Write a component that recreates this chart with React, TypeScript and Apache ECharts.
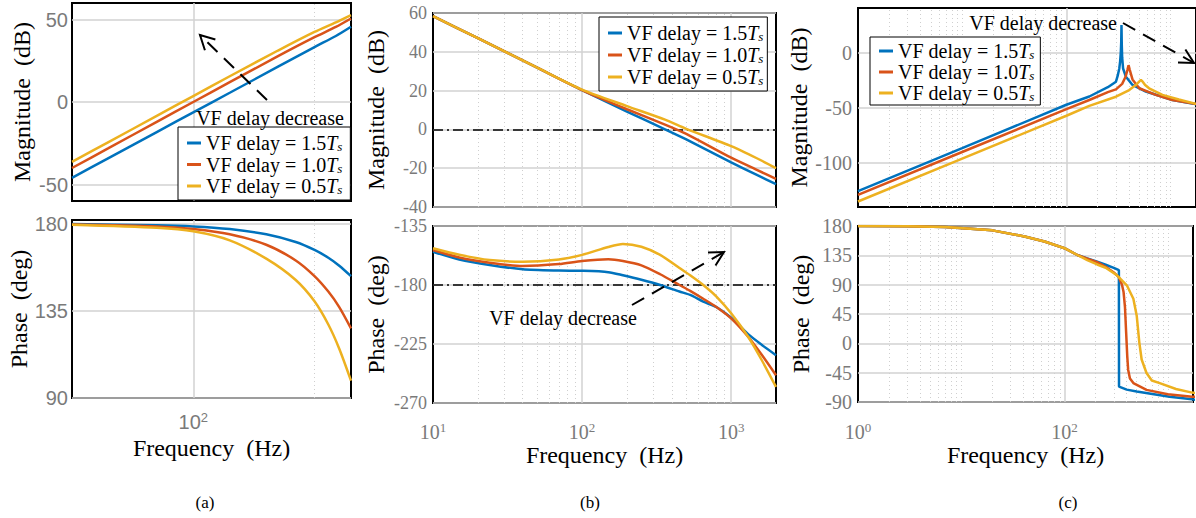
import React, { useEffect, useRef } from 'react';
import * as echarts from 'echarts';

const DELAYS = ['1.5', '1.0', '0.5'];
const COLORS = ['#0072BD', '#D95319', '#EDB120'];

// ---- panel (a)
const A_MAG_FREQ = [10, 20, 50, 100, 200, 500, 1000, 1500, 2000];
const A_MAG_15 = [-46, -34, -18.2, -6.3, 5.6, 21.4, 33.3, 40, 45.6];
const A_MAG_10 = [-40, -28, -12, 0, 12, 27.8, 39.3, 45.5, 50.6];
const A_MAG_05 = [-36.3, -24.3, -8.4, 3.6, 15.6, 31.2, 42.5, 48.3, 52.7];
const A_PH_FREQ = [10, 50, 100, 200, 400, 700, 1000, 1300, 1600, 2000];
const A_PH_15 = [179.9, 179.3, 178.7, 177.3, 174.6, 170.6, 166.5, 162.5, 158.4, 153];
const A_PH_10 = [179.7, 178.7, 177.3, 174.6, 169.2, 161.1, 153, 145, 137, 126];
const A_PH_05 = [179.6, 178, 176.2, 171.5, 162, 151, 140, 128, 115.5, 99];

// ---- panel (b)
const B_MAG_FREQ = [10, 20, 50, 100, 200, 360, 500, 1000, 1500, 2000];
const B_MAG_15 = [58.4, 47, 31.8, 20.2, 9.2, 0, -5.2, -17, -23.6, -28.2];
const B_MAG_10 = [58.4, 47, 31.8, 20.3, 10.4, 2.5, -2.3, -14.6, -21, -25.5];
const B_MAG_05 = [58.4, 47, 31.8, 20.5, 12, 5, 0.3, -8.6, -15, -20];
const B_PH_FREQ = [10, 15, 24, 40, 70, 100, 150, 188, 250, 334, 450, 531, 650, 800, 1000, 1300, 1600, 2000];
const B_PH_15 = [-154.6, -160.5, -164.7, -168, -169, -169.2, -170.2, -172.6, -176, -180, -185, -187.6, -192.7, -197, -205, -217.5, -225.5, -233.5];
const B_PH_10 = [-153.3, -159, -163, -165.5, -164, -161.7, -160.4, -161.7, -165, -171.8, -180, -184.5, -190.5, -197, -205.5, -219.5, -233, -248.8];
const B_PH_05 = [-152, -157, -161, -162.2, -160.5, -157, -151, -148.7, -150.8, -157, -167, -172.6, -180, -189, -201.6, -219.5, -237, -257.7];

// ---- panel (c)
const C_MAG_15_FREQ = [1, 10, 100, 166, 250, 299, 310, 322, 328, 333, 336, 338, 340, 343, 350, 373, 431, 579, 1041, 1718, 2000];
const C_MAG_15 = [-125.5, -86.5, -47, -39.5, -31, -26, -21, -14, -7.5, 1, 10, 25.5, 8, -4, -14, -21.5, -29, -35, -42.7, -46.4, -47.5];
const C_MAG_10_FREQ = [1, 10, 100, 166, 250, 299, 343, 370, 385, 395, 405, 431, 500, 721, 1041, 1718, 2000];
const C_MAG_10 = [-129, -90, -51, -42.7, -35.5, -33, -28, -21.5, -15.5, -11, -15, -24, -32, -38, -42.7, -46.2, -47.2];
const C_MAG_05_FREQ = [1, 10, 100, 166, 299, 401, 470, 505, 519, 540, 570, 622, 835, 1200, 1718, 2000];
const C_MAG_05 = [-135, -96, -57, -48, -39.7, -33.6, -28.5, -25.5, -24.5, -26, -29, -32, -38, -42.2, -46, -47];
const C_PH_15_FREQ = [1, 3, 7, 20, 41, 64, 100, 133, 166, 207, 250, 300, 336, 337, 400, 500, 1041, 1718, 2000];
const C_PH_15 = [180, 179.6, 178.5, 173.3, 164, 156.3, 145.9, 135.5, 130.3, 125.2, 120.5, 115.8, 112.2, -66.3, -71, -74, -81.8, -85.9, -87];
const C_PH_10_FREQ = [1, 3, 7, 20, 41, 64, 100, 133, 166, 207, 250, 300, 334, 360, 373, 385, 395, 405, 413, 430, 464, 622, 1000, 1718, 2000];
const C_PH_10 = [180, 179.6, 178.5, 173.3, 164, 156.3, 145.9, 135.5, 130, 124.5, 117.5, 108.6, 102, 90, 78.6, 55, 16.6, -20, -40.4, -54, -61, -71.4, -78, -81.8, -82.5];
const C_PH_05_FREQ = [1, 3, 7, 20, 41, 64, 100, 133, 166, 207, 250, 322, 401, 464, 500, 530, 558, 622, 700, 835, 1200, 1718, 2000];
const C_PH_05 = [180, 179.6, 178.5, 173.3, 164, 156.3, 145.9, 135.5, 127.7, 121, 116, 104.4, 89, 68.3, 42.4, 1.1, -24.8, -45.5, -57, -61, -70, -75.6, -77];

// grid-line frequencies
const A_MAJOR = [100];
const A_MINOR = [1000];
const B_MAJOR = [100, 1000];
const B_MINOR = [20, 30, 40, 50, 60, 70, 80, 90, 200, 300, 400, 500, 600, 700, 800, 900];
const C_MAJOR = [100];
const C_MINOR = [2, 3, 4, 5, 6, 7, 8, 9, 10, 20, 30, 40, 50, 60, 70, 80, 90, 200, 300, 400, 500, 600, 700, 800, 900, 1000];

const SERIF = 'Liberation Serif';
const SANS = 'Liberation Sans';
const GRAY = '#7a7a7a';
const GRIDC = '#d2d2d2';

const zip = (xs: number[], ys: number[]) => xs.map((x, i) => [x, ys[i]]);

function expFormatter(shown: number[]) {
  return (v: number) => {
    const l = Math.log10(v);
    const e = Math.round(l);
    if (Math.abs(l - e) > 1e-6 || !shown.includes(e)) return '';
    return `{b|10}{e|${e}}`;
  };
}

function expRich(font: string) {
  return {
    b: { fontFamily: font, fontSize: 20, color: GRAY, lineHeight: 22 },
    e: { fontFamily: font, fontSize: 13, color: GRAY, verticalAlign: 'top', lineHeight: 14 },
  };
}

export default function App() {
  const ref = useRef<HTMLDivElement>(null);
  useEffect(() => {
    if (!ref.current) return;
    const chart = echarts.init(ref.current, undefined, { renderer: 'svg' });

    const grids = [
      { left: 72, top: 3, width: 279, height: 198 },
      { left: 72, top: 220, width: 279, height: 178 },
      { left: 433, top: 13, width: 343, height: 194 },
      { left: 433, top: 226, width: 343, height: 177 },
      { left: 858, top: 8, width: 339, height: 199 },
      { left: 858, top: 226, width: 339, height: 176 },
    ].map((g) => ({ ...g, show: true, borderColor: '#000', borderWidth: 2, backgroundColor: 'transparent' }));

    const C_MAX = Math.pow(10, 339 / 104.5);
    const xRanges = [
      [10, 2000], [10, 2000], [10, 2000], [10, 2000], [1, C_MAX], [1, C_MAX],
    ];
    const xShown: (number[] | null)[] = [null, [2], null, [1, 2, 3], null, [0, 2]];
    const xFonts = [SANS, SANS, SERIF, SERIF, SERIF, SERIF];
    const xLabelMargin = [0, 13, 0, 18, 0, 19];
    const xNameGap = [0, 38, 0, 38, 0, 41];

    const xAxis = grids.map((_, i) => ({
      type: 'log',
      logBase: 10,
      gridIndex: i,
      min: xRanges[i][0],
      max: xRanges[i][1],
      axisLine: { show: false },
      axisTick: { show: false },
      splitLine: { show: false },
      axisLabel: xShown[i]
        ? { show: true, margin: xLabelMargin[i], formatter: expFormatter(xShown[i] as number[]), rich: expRich(xFonts[i]), showMinLabel: true, showMaxLabel: true }
        : { show: false },
      name: xShown[i] ? 'Frequency  (Hz)' : '',
      nameLocation: 'middle',
      nameGap: xNameGap[i],
      nameTextStyle: { fontFamily: SERIF, fontSize: 24, color: '#000' },
    }));

    const yCfg = [
      { min: -60, max: 60, custom: [-50, 0, 50], font: SANS, size: 20, name: 'Magnitude  (dB)', gap: 38, margin: 4 },
      { min: 90, max: 182, custom: [90, 135, 180], font: SANS, size: 20, name: 'Phase  (deg)', gap: 38, margin: 4 },
      { min: -40, max: 60, interval: 20, font: SERIF, size: 18, name: 'Magnitude  (dB)', gap: 45, margin: 6 },
      { min: -270, max: -135, interval: 45, font: SERIF, size: 18, name: 'Phase  (deg)', gap: 45, margin: 6 },
      { min: -140, max: 41, custom: [-100, -50, 0], font: SERIF, size: 20, name: 'Magnitude  (dB)', gap: 45, margin: 6 },
      { min: -90, max: 180, interval: 45, font: SERIF, size: 20, name: 'Phase  (deg)', gap: 45, margin: 6 },
    ];

    const yAxis = yCfg.map((c, i) => ({
      type: 'value',
      gridIndex: i,
      min: c.min,
      max: c.max,
      ...(c.interval ? { interval: c.interval } : {}),
      axisLine: { show: false },
      axisTick: { show: false, ...(c.custom ? { customValues: c.custom } : {}) },
      splitLine: { show: true, lineStyle: { color: GRIDC, width: 1.5 } },
      axisLabel: {
        margin: c.margin,
        fontFamily: c.font,
        fontSize: c.size,
        lineHeight: 17,
        color: GRAY,
        ...(c.custom ? { customValues: c.custom } : {}),
      },
      name: c.name,
      nameLocation: 'middle',
      nameRotate: 90,
      nameGap: c.gap,
      nameTextStyle: { fontFamily: SERIF, fontSize: 24, color: '#000' },
    }));

    const gridLines = (i: number, major: number[], minor: number[], extra: any[] = []) => ({
      type: 'line',
      xAxisIndex: i,
      yAxisIndex: i,
      data: [],
      z: 1,
      silent: true,
      markLine: {
        z: 1,
        silent: true,
        symbol: 'none',
        animation: false,
        label: { show: false },
        emphasis: { disabled: true },
        data: [
          ...major.map((f) => ({ xAxis: f, lineStyle: { color: GRIDC, width: 1.5, type: 'solid' } })),
          ...minor.map((f) => ({ xAxis: f, lineStyle: { color: '#cfcfcf', width: 1, type: [1, 3] } })),
          ...extra,
        ],
      },
    });

    const dashDot = (v: number) => ({ yAxis: v, lineStyle: { color: '#000', width: 1.5, type: [10, 4, 2, 4] } });

    const curve = (i: number, k: number, data: number[][]) => ({
      type: 'line',
      name: DELAYS[k],
      xAxisIndex: i,
      yAxisIndex: i,
      data,
      showSymbol: false,
      symbol: 'none',
      smooth: 0.25,
      z: 3,
      color: COLORS[k],
      lineStyle: { color: COLORS[k], width: 2.5 },
      emphasis: { disabled: true },
    });

    const series: any[] = [
      gridLines(0, A_MAJOR, A_MINOR),
      gridLines(1, A_MAJOR, A_MINOR),
      gridLines(2, B_MAJOR, B_MINOR, [dashDot(0)]),
      gridLines(3, B_MAJOR, B_MINOR, [dashDot(-180)]),
      gridLines(4, C_MAJOR, C_MINOR),
      gridLines(5, C_MAJOR, C_MINOR),
      curve(0, 0, zip(A_MAG_FREQ, A_MAG_15)),
      curve(0, 1, zip(A_MAG_FREQ, A_MAG_10)),
      curve(0, 2, zip(A_MAG_FREQ, A_MAG_05)),
      curve(1, 0, zip(A_PH_FREQ, A_PH_15)),
      curve(1, 1, zip(A_PH_FREQ, A_PH_10)),
      curve(1, 2, zip(A_PH_FREQ, A_PH_05)),
      curve(2, 0, zip(B_MAG_FREQ, B_MAG_15)),
      curve(2, 1, zip(B_MAG_FREQ, B_MAG_10)),
      curve(2, 2, zip(B_MAG_FREQ, B_MAG_05)),
      curve(3, 0, zip(B_PH_FREQ, B_PH_15)),
      curve(3, 1, zip(B_PH_FREQ, B_PH_10)),
      curve(3, 2, zip(B_PH_FREQ, B_PH_05)),
      { ...curve(4, 0, zip(C_MAG_15_FREQ, C_MAG_15)), smooth: false },
      { ...curve(4, 1, zip(C_MAG_10_FREQ, C_MAG_10)), smooth: false },
      { ...curve(4, 2, zip(C_MAG_05_FREQ, C_MAG_05)), smooth: false },
      { ...curve(5, 0, zip(C_PH_15_FREQ, C_PH_15)), smooth: false },
      { ...curve(5, 1, zip(C_PH_10_FREQ, C_PH_10)), smooth: false },
      { ...curve(5, 2, zip(C_PH_05_FREQ, C_PH_05)), smooth: false },
    ];

    const legendRich = {
      n: { fontFamily: SERIF, fontSize: 20, color: '#000', lineHeight: 20 },
      t: { fontFamily: SERIF, fontSize: 20, fontStyle: 'italic', color: '#000', lineHeight: 20 },
      s: { fontFamily: SERIF, fontSize: 13, fontStyle: 'italic', color: '#000', verticalAlign: 'bottom', lineHeight: 14 },
    };
    const mkLegend = (left: number, top: number, padding: number[], gap: number) => ({
      orient: 'vertical',
      left,
      top,
      data: DELAYS,
      selectedMode: false,
      icon: 'rect',
      itemWidth: 14,
      itemHeight: 3,
      itemGap: gap,
      padding,
      backgroundColor: '#fff',
      borderColor: '#000',
      borderWidth: 1,
      formatter: (name: string) => `{n|VF delay = ${name}}{t|T}{s|s}`,
      textStyle: { fontFamily: SERIF, rich: legendRich },
      z: 10,
    });

    const arrow = (x1: number, y1: number, x2: number, y2: number) => {
      const ang = Math.atan2(y1 - y2, x1 - x2);
      const L = 16;
      const w = (28 * Math.PI) / 180;
      return [
        { type: 'line', shape: { x1, y1, x2, y2 }, style: { stroke: '#000', lineWidth: 2, lineDash: [14, 9] }, z: 20 },
        {
          type: 'polyline',
          shape: {
            points: [
              [x2 + L * Math.cos(ang + w), y2 + L * Math.sin(ang + w)],
              [x2, y2],
              [x2 + L * Math.cos(ang - w), y2 + L * Math.sin(ang - w)],
            ],
          },
          style: { stroke: '#000', lineWidth: 2, fill: null },
          z: 20,
        },
      ];
    };
    const label = (x: number, y: number, text: string, size: number, align = 'center') => ({
      type: 'text',
      x,
      y,
      z: 20,
      style: { text, fontFamily: SERIF, fontSize: size, fill: '#000', align, verticalAlign: 'middle', textAlign: align, textVerticalAlign: 'middle' },
    });

    chart.setOption({
      animation: false,
      grid: grids,
      xAxis,
      yAxis,
      series,
      legend: [
        mkLegend(178, 127, [6, 8, 4, 9], 1.5),
        mkLegend(599, 17, [6, 4, 4, 9], 2),
        mkLegend(870, 37, [4, 6, 2, 9], 1),
      ],
      graphic: [
        ...arrow(267, 100, 200, 35),
        ...arrow(632, 305, 724, 252),
        ...arrow(1123, 23, 1194, 63),
        label(270, 118, 'VF delay decrease', 20),
        label(563, 318, 'VF delay decrease', 20),
        label(1117, 23, 'VF delay decrease', 20, 'right'),
        label(205, 502, '(a)', 17),
        label(590, 502, '(b)', 17),
        label(1068, 502, '(c)', 17),
      ],
    });
    return () => chart.dispose();
  }, []);
  return <div ref={ref} style={{ position: 'fixed', left: 0, top: 0, width: 1196, height: 518, background: '#fff' }} />;
}
